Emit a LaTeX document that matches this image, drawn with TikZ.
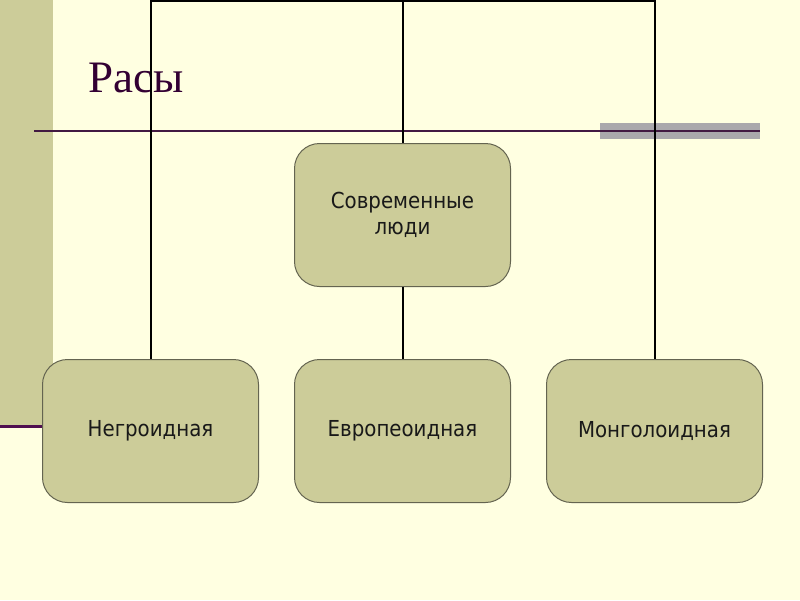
\documentclass[tikz,border=0pt]{standalone}
\usepackage{fontspec}
\usepackage{xcolor}
\usepackage{tikz}
\usetikzlibrary{positioning}
\setmainfont{Liberation Serif}
\newfontfamily\boxfont{DejaVu Sans Condensed}

\definecolor{paper}{RGB}{255,255,225}
\definecolor{khaki}{RGB}{204,204,153}
\definecolor{plum}{RGB}{51,0,51}
\definecolor{barline}{RGB}{80,15,80}
\definecolor{rulegray}{RGB}{170,168,172}
\definecolor{boxedge}{RGB}{100,100,80}

\tikzset{
  racebox/.style={draw=boxedge, line width=1pt, fill=khaki, rounded corners=25pt,
    minimum width=216pt, minimum height=143pt, inner sep=0pt, align=center,
    font=\boxfont\fontsize{22}{26}\selectfont, text=black!90},
  link/.style={black, line width=2pt}
}

\begin{document}
\begin{tikzpicture}[x=1pt, y=-1pt]
  % page
  \useasboundingbox (0,0) rectangle (800,600);
  \fill[paper] (0,0) rectangle (800,600);
  % left band
  \fill[khaki] (0,0) rectangle (53,426);
  \fill[barline] (0,424.5) rectangle (53,427.5);
  % title and rule
  \node[anchor=base west, inner sep=0pt, text=plum, font=\fontsize{45}{50}\selectfont] (title) at (88,92) {Расы};
  \fill[rulegray] (600,123) rectangle (760,139);
  \draw[plum!80!gray, line width=1.6pt] (34,131) -- (760,131);
  % boxes
  \node[racebox] (people) at (402.5,215) {Современные\\люди};
  \node[racebox, below=72pt of people] (evro) {Европеоидная};
  \node[racebox, left=35pt of evro] (negro) {Негроидная};
  \node[racebox, right=35pt of evro] (mongol) {Монголоидная};
  % tree
  \coordinate (hub) at (402.5,1);
  \draw[link] (negro.north) |- (hub) -| (mongol.north);
  \draw[link] (hub) -- (people.north);
  \draw[link] (people.south) -- (evro.north);
\end{tikzpicture}
\end{document}
